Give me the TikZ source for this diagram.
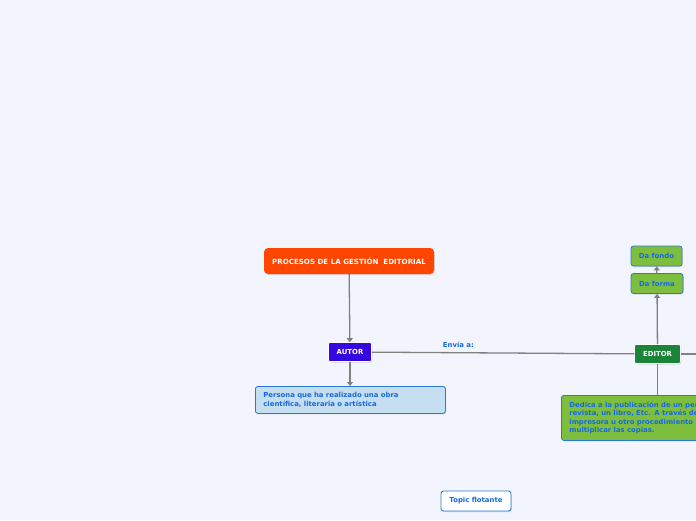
\documentclass[tikz,border=0pt]{standalone}
\usepackage{fontspec}
\setmainfont{DejaVu Sans}
\usetikzlibrary{arrows.meta,shadows}
\definecolor{bg}{RGB}{242,245,253}
\definecolor{titleor}{RGB}{255,70,0}
\definecolor{autorc}{RGB}{52,8,222}
\definecolor{editorc}{RGB}{28,132,56}
\definecolor{greenbox}{RGB}{126,190,62}
\definecolor{bluebd}{RGB}{45,120,215}
\definecolor{bluetx}{RGB}{22,105,225}
\definecolor{lightblue}{RGB}{197,222,240}
\definecolor{conn}{RGB}{128,128,128}
\tikzset{
  base/.style={font=\fontsize{6.9}{8.3}\selectfont\bfseries, inner sep=0pt,
    drop shadow={shadow xshift=0.8pt, shadow yshift=-1pt, opacity=0.25}},
  titlebox/.style={base, font=\fontsize{7.1}{8.3}\selectfont\bfseries, fill=titleor, text=white, rounded corners=4pt,
    minimum width=170, minimum height=26},
  darkbox/.style={base, text=white, draw=white, line width=0.6pt, rounded corners=2pt,
    minimum height=19},
  greenbtn/.style={base, fill=greenbox, draw=bluebd, line width=0.8pt, text=bluetx,
    rounded corners=2.5pt, minimum width=52, minimum height=20},
  infobox/.style={base, draw=bluebd, line width=0.8pt, text=bluetx, rounded corners=2.5pt,
    align=left, anchor=north west, inner xsep=8pt},
  conline/.style={draw=conn, line width=1.3pt},
  arr/.style={conline, -{Triangle[width=6pt,length=4pt]}},
  lbl/.style={font=\fontsize{6.9}{8}\selectfont\bfseries, text=bluetx}
}
\begin{document}
\begin{tikzpicture}[x=1pt,y=-1pt]
\fill[bg] (0,0) rectangle (696,520);
\useasboundingbox (0,0) rectangle (696,520);

\node[titlebox] (title) at (349,261) {PROCESOS DE LA GESTIÓN\ \ EDITORIAL};
\node[darkbox, fill=autorc, minimum width=43] (autor) at (350,352) {AUTOR};
\node[infobox, fill=lightblue, minimum width=190, minimum height=27, text width=174] (persona) at (255,386)
  {Persona que ha realizado una obra\\científica, literaria o artística};
\node[darkbox, fill=editorc, minimum width=46] (editor) at (657.5,354) {EDITOR};
\node[greenbtn] (forma) at (657,283.5) {Da forma};
\node[greenbtn, minimum width=51] (fondo) at (656.5,256) {Da fondo};
\node[infobox, fill=greenbox, minimum width=170, minimum height=45, text width=170] (desc) at (561,395)
  {Dedica a la publicación de un periódico,\\revista, un libro, Etc. A través de una\\impresora u otro procedimiento para\\multiplicar las copias.};
\node[infobox, fill=white, anchor=center, inner xsep=0pt, minimum width=70, minimum height=20, text width=, align=center] (topic) at (476,501) {Topic flotante};
\coordinate (rightend) at (705,354);

\draw[arr] (title) -- (autor);
\draw[arr] (autor) -- (persona.north -| autor);
\draw[conline] (autor) -- node[lbl, above=1pt, pos=0.33] (envia) {Envía a:} (editor);
\draw[conline] (editor) -- (rightend);
\draw[arr] (editor) -- (forma);
\draw[arr] (forma) -- (fondo);
\draw[conline] (editor) -- (editor.south |- desc.north);
\end{tikzpicture}
\end{document}
